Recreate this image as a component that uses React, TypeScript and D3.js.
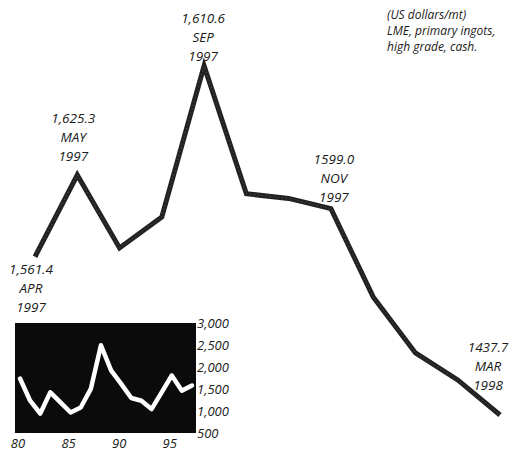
import React from "react";
import * as d3 from "d3";

// Main chart: monthly LME aluminium cash price, Apr 1997 – Mar 1998 (US$/mt)
const months = ["APR 97", "MAY 97", "JUN 97", "JUL 97", "AUG 97", "SEP 97", "OCT 97", "NOV 97", "DEC 97", "JAN 98", "FEB 98", "MAR 98"];
const prices = [1561.4, 1625.3, 1568.3, 1592.5, 1710.6, 1610.6, 1607.0, 1599.0, 1530.0, 1486.2, 1465.1, 1437.7];

// Annotations: anchor month, and the three text lines
const annotMonths = ["APR 97", "MAY 97", "AUG 97", "NOV 97", "MAR 98"];
const annotValues = ["1,561.4", "1,625.3", "1,610.6", "1599.0", "1437.7"];
const annotMonthText = ["APR", "MAY", "SEP", "NOV", "MAR"];
const annotYearText = ["1997", "1997", "1997", "1997", "1998"];

const noteLines = ["(US dollars/mt)", "LME, primary ingots,", "high grade, cash."];

// Inset: annual averages 1980–1997
const insetYears = [80, 81, 82, 83, 84, 85, 86, 87, 88, 89, 90, 91, 92, 93, 94, 95, 96, 97];
const insetValues = [1739, 1234, 943, 1424, 1195, 966, 1080, 1502, 2495, 1922, 1617, 1296, 1234, 1044, 1424, 1807, 1463, 1578];
const insetYTicks = [500, 1000, 1500, 2000, 2500, 3000];
const insetXTicks = [80, 85, 90, 95];

const FONT = "'Open Sans', 'DejaVu Sans', sans-serif";

export default function App() {
  const W = 512, H = 453;

  const x = d3.scalePoint<string>().domain(months).range([35, 500]);
  const y = d3.scaleLinear().domain([1437.7, 1625.3]).range([415, 175]);

  const line = d3
    .line<number>()
    .x((_, i) => x(months[i]) as number)
    .y((d) => y(d));

  // offsets of annotation blocks relative to their anchor point: [dx, dy of first line centre]
  const annotOffsets: Record<string, [number, number]> = {
    "APR 97": [-4, 12],
    "MAY 97": [-4, -57],
    "AUG 97": [-1, -48],
    "NOV 97": [3, -50],
    "MAR 98": [-12, -68],
  };
  const lineGaps = [0, 19, 38];

  const ix = d3.scaleLinear().domain([80, 97]).range([20, 192]);
  const iy = d3.scaleLinear().domain([500, 3000]).range([433, 323]);
  const insetLine = d3
    .line<number>()
    .x((_, i) => ix(insetYears[i]))
    .y((d) => iy(d));

  const fs = 13.5;
  const textColor = "#1a1a1a";

  return (
    <svg
      width={W}
      height={H}
      style={{ position: "absolute", left: 0, top: 0, background: "#fff" }}
      fontFamily={FONT}
    >
      <rect x={0} y={0} width={W} height={H} fill="#fff" />

      {/* main line */}
      <path
        d={line(prices) || ""}
        fill="none"
        stroke="#222"
        strokeWidth={5}
        strokeLinejoin="miter"
        strokeLinecap="butt"
      />
      <path
        d={line(prices) || ""}
        fill="none"
        stroke="#777"
        strokeWidth={1}
        strokeDasharray="1 3"
        opacity={0.6}
      />

      {/* annotations */}
      {annotMonths.map((m, i) => {
        const px = x(m) as number;
        const py = y(prices[months.indexOf(m)]);
        const [dx, dy] = annotOffsets[m];
        const texts = [annotValues[i], annotMonthText[i], annotYearText[i]];
        return (
          <g key={m}>
            {texts.map((t, j) => (
              <text
                key={j}
                x={px + dx}
                y={py + dy + lineGaps[j] + fs * 0.36}
                textAnchor="middle"
                fontSize={fs}
                fontStyle="italic"
                fill={textColor}
              >
                {t}
              </text>
            ))}
          </g>
        );
      })}

      {/* note */}
      {noteLines.map((t, i) => (
        <text
          key={i}
          x={387}
          y={14 + i * 16 + 4.5}
          fontSize={12}
          fontStyle="italic"
          fill={textColor}
        >
          {t}
        </text>
      ))}

      {/* inset */}
      <rect x={ix(80) - 5} y={iy(3000)} width={ix(97) - ix(80) + 9} height={iy(500) - iy(3000)} fill="#0b0b0b" />
      <path
        d={insetLine(insetValues) || ""}
        fill="none"
        stroke="#fff"
        strokeWidth={4.5}
        strokeLinejoin="round"
        strokeLinecap="round"
      />
      {insetYTicks.map((v) => (
        <text
          key={v}
          x={197}
          y={iy(v) + 4.5}
          fontSize={13}
          fontStyle="italic"
          fill={textColor}
        >
          {d3.format(",")(v)}
        </text>
      ))}
      {insetXTicks.map((v) => (
        <text
          key={v}
          x={ix(v) - 2}
          y={448}
          textAnchor="middle"
          fontSize={13}
          fontStyle="italic"
          fill={textColor}
        >
          {v}
        </text>
      ))}
    </svg>
  );
}
